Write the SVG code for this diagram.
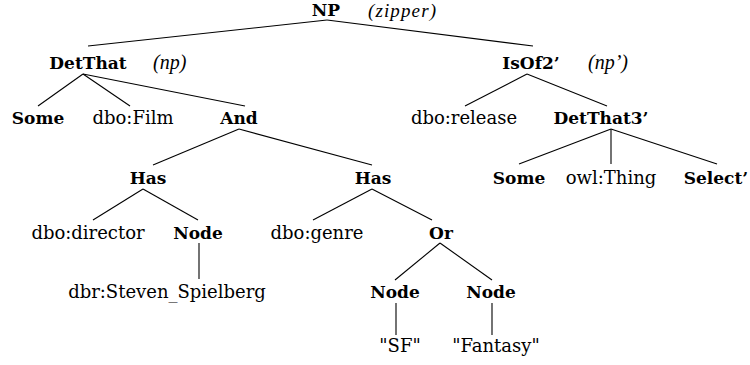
<svg xmlns="http://www.w3.org/2000/svg" width="750" height="365" viewBox="0 0 750 365">
<style>
text{font-family:"DejaVu Serif",serif;fill:#000;text-anchor:middle}
.b{font-weight:bold;font-size:17px}
.r{font-size:18px}
.i{font-family:"Liberation Serif",serif;font-style:italic;font-size:20px;text-anchor:start}
.edges line{stroke:#000;stroke-width:1.1}
</style>
<rect width="750" height="365" fill="#fff"/>
<g class="edges" id="connectors">
<line x1="327" y1="20" x2="88" y2="46"/>
<line x1="327" y1="20" x2="533" y2="46"/>
<line x1="83" y1="74" x2="38" y2="106"/>
<line x1="83" y1="74" x2="130" y2="106"/>
<line x1="83" y1="74" x2="245" y2="106"/>
<line x1="527" y1="74" x2="465" y2="106"/>
<line x1="527" y1="74" x2="607" y2="106"/>
<line x1="611" y1="129" x2="519" y2="164"/>
<line x1="611" y1="129" x2="611" y2="164"/>
<line x1="611" y1="129" x2="717" y2="164"/>
<line x1="239" y1="129" x2="153" y2="165"/>
<line x1="239" y1="129" x2="372" y2="165"/>
<line x1="143" y1="189" x2="93" y2="220"/>
<line x1="143" y1="189" x2="198" y2="220"/>
<line x1="372" y1="189" x2="313" y2="220"/>
<line x1="372" y1="189" x2="432" y2="220"/>
<line x1="199" y1="243" x2="199" y2="279"/>
<line x1="440" y1="243" x2="395" y2="280"/>
<line x1="440" y1="243" x2="492" y2="280"/>
<line x1="396" y1="303" x2="396" y2="335"/>
<line x1="492" y1="303" x2="492" y2="335"/>
</g>
<g id="np"><text class="b" x="326" y="15.5">NP</text><text class="i" x="368" y="17" style="font-size:19px" textLength="68">(zipper)</text></g>
<g id="detthat"><text class="b" x="88" y="69">DetThat</text><text class="i" x="153" y="69">(np)</text></g>
<g id="isof2"><text class="b" x="531" y="69">IsOf2’</text><text class="i" x="588" y="69">(np’)</text></g>
<g id="some1"><text class="b" x="38" y="124">Some</text></g>
<g id="dbofilm"><text class="r" x="133" y="124">dbo:Film</text></g>
<g id="and"><text class="b" x="239" y="124">And</text></g>
<g id="dborelease"><text class="r" x="464" y="124">dbo:release</text></g>
<g id="detthat3"><text class="b" x="601" y="124">DetThat3’</text></g>
<g id="has1"><text class="b" x="148" y="184">Has</text></g>
<g id="has2"><text class="b" x="373" y="184">Has</text></g>
<g id="some2"><text class="b" x="519" y="184">Some</text></g>
<g id="owlthing"><text class="r" x="611" y="184">owl:Thing</text></g>
<g id="select"><text class="b" x="716" y="184">Select’</text></g>
<g id="dbodirector"><text class="r" x="88" y="239">dbo:director</text></g>
<g id="node1"><text class="b" x="198" y="239">Node</text></g>
<g id="dbogenre"><text class="r" x="317" y="239">dbo:genre</text></g>
<g id="or"><text class="b" x="441" y="239">Or</text></g>
<g id="spielberg"><text class="r" x="167" y="298">dbr:Steven_Spielberg</text></g>
<g id="node2"><text class="b" x="395" y="298">Node</text></g>
<g id="node3"><text class="b" x="491" y="298">Node</text></g>
<g id="sf"><text class="r" x="400" y="352">"SF"</text></g>
<g id="fantasy"><text class="r" x="496" y="352">"Fantasy"</text></g>
</svg>
